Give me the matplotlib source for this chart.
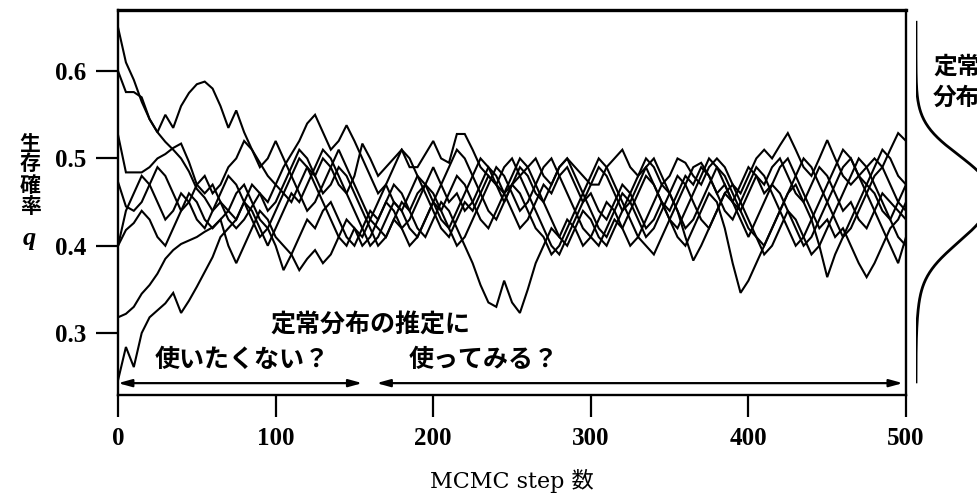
import matplotlib
matplotlib.use("Agg")
import matplotlib.pyplot as plt
import numpy as np

plt.rcParams["font.family"] = ["Liberation Serif", "Noto Sans CJK JP"]

# MCMC step axis (one value every 5 steps)
steps = np.arange(0, 501, 5)

# survival probability q, 8 chains
chain_a = [0.650, 0.610, 0.590, 0.565, 0.545, 0.530, 0.519, 0.510, 0.500, 0.485, 0.465,
           0.455, 0.440, 0.450, 0.430, 0.420, 0.430, 0.445, 0.460, 0.450, 0.470,
           0.490, 0.505, 0.520, 0.540, 0.550, 0.530, 0.510, 0.520, 0.538, 0.520,
           0.500, 0.480, 0.460, 0.470, 0.450, 0.440, 0.460, 0.480, 0.470, 0.490,
           0.470, 0.450, 0.460, 0.440, 0.450, 0.470, 0.490, 0.480, 0.460, 0.440,
           0.420, 0.430, 0.450, 0.470, 0.460, 0.480, 0.490, 0.470, 0.450, 0.460,
           0.440, 0.430, 0.450, 0.470, 0.460, 0.440, 0.420, 0.430, 0.450, 0.440,
           0.460, 0.480, 0.470, 0.490, 0.480, 0.460, 0.470, 0.450, 0.440, 0.460,
           0.480, 0.470, 0.490, 0.500, 0.480, 0.460, 0.450, 0.470, 0.490, 0.480,
           0.460, 0.440, 0.450, 0.430, 0.420, 0.440, 0.460, 0.450, 0.440, 0.430]
chain_b = [0.600, 0.576, 0.576, 0.570, 0.545, 0.530, 0.550, 0.535, 0.560, 0.575, 0.585,
           0.588, 0.580, 0.560, 0.535, 0.555, 0.530, 0.510, 0.495, 0.480, 0.470,
           0.460, 0.450, 0.470, 0.490, 0.480, 0.500, 0.490, 0.470, 0.460, 0.480,
           0.517, 0.500, 0.480, 0.490, 0.500, 0.510, 0.490, 0.490, 0.505, 0.520,
           0.500, 0.495, 0.528, 0.528, 0.510, 0.490, 0.480, 0.470, 0.460, 0.470,
           0.480, 0.490, 0.500, 0.480, 0.470, 0.490, 0.500, 0.490, 0.480, 0.470,
           0.470, 0.490, 0.500, 0.510, 0.490, 0.480, 0.500, 0.490, 0.470, 0.480,
           0.500, 0.495, 0.480, 0.470, 0.490, 0.500, 0.490, 0.470, 0.460, 0.480,
           0.500, 0.510, 0.500, 0.515, 0.529, 0.510, 0.490, 0.480, 0.500, 0.521,
           0.500, 0.480, 0.470, 0.480, 0.490, 0.500, 0.490, 0.510, 0.529, 0.520]
chain_c = [0.527, 0.484, 0.484, 0.484, 0.490, 0.500, 0.505, 0.512, 0.517, 0.496, 0.470,
           0.460, 0.470, 0.450, 0.440, 0.460, 0.470, 0.450, 0.430, 0.420, 0.400,
           0.372, 0.390, 0.410, 0.430, 0.420, 0.440, 0.450, 0.430, 0.410, 0.400,
           0.420, 0.440, 0.430, 0.450, 0.470, 0.460, 0.440, 0.420, 0.410, 0.430,
           0.450, 0.440, 0.420, 0.400, 0.380, 0.355, 0.335, 0.330, 0.360, 0.335,
           0.323, 0.350, 0.380, 0.400, 0.420, 0.410, 0.430, 0.420, 0.400, 0.410,
           0.430, 0.450, 0.440, 0.420, 0.400, 0.410, 0.430, 0.450, 0.470, 0.460,
           0.440, 0.410, 0.383, 0.400, 0.420, 0.440, 0.460, 0.450, 0.470, 0.490,
           0.480, 0.460, 0.470, 0.490, 0.500, 0.480, 0.460, 0.440, 0.420, 0.430,
           0.410, 0.420, 0.400, 0.380, 0.364, 0.380, 0.400, 0.420, 0.430, 0.450]
chain_d = [0.473, 0.445, 0.440, 0.450, 0.470, 0.490, 0.480, 0.460, 0.440, 0.450, 0.470,
           0.480, 0.460, 0.470, 0.490, 0.500, 0.520, 0.510, 0.490, 0.500, 0.520,
           0.500, 0.480, 0.460, 0.440, 0.450, 0.470, 0.490, 0.510, 0.490, 0.470,
           0.450, 0.430, 0.420, 0.410, 0.430, 0.450, 0.440, 0.460, 0.470, 0.450,
           0.430, 0.420, 0.440, 0.460, 0.480, 0.500, 0.490, 0.470, 0.450, 0.470,
           0.490, 0.480, 0.460, 0.450, 0.470, 0.490, 0.500, 0.480, 0.460, 0.440,
           0.420, 0.410, 0.430, 0.420, 0.440, 0.460, 0.480, 0.470, 0.450, 0.430,
           0.410, 0.400, 0.420, 0.440, 0.460, 0.450, 0.420, 0.380, 0.346, 0.360,
           0.380, 0.400, 0.420, 0.440, 0.460, 0.470, 0.450, 0.430, 0.400, 0.364,
           0.390, 0.410, 0.430, 0.450, 0.470, 0.460, 0.440, 0.430, 0.450, 0.470]
chain_e = [0.400, 0.440, 0.460, 0.480, 0.470, 0.450, 0.430, 0.440, 0.460, 0.450, 0.430,
           0.420, 0.440, 0.460, 0.480, 0.470, 0.450, 0.430, 0.410, 0.420, 0.440,
           0.460, 0.480, 0.500, 0.490, 0.470, 0.450, 0.430, 0.410, 0.400, 0.420,
           0.410, 0.430, 0.450, 0.470, 0.490, 0.510, 0.500, 0.480, 0.460, 0.440,
           0.420, 0.410, 0.430, 0.450, 0.440, 0.460, 0.480, 0.470, 0.490, 0.500,
           0.480, 0.460, 0.440, 0.420, 0.400, 0.390, 0.410, 0.430, 0.450, 0.470,
           0.490, 0.480, 0.460, 0.440, 0.450, 0.470, 0.490, 0.500, 0.480, 0.460,
           0.440, 0.420, 0.430, 0.450, 0.470, 0.490, 0.480, 0.460, 0.440, 0.420,
           0.410, 0.390, 0.400, 0.420, 0.440, 0.430, 0.410, 0.390, 0.400, 0.420,
           0.440, 0.460, 0.480, 0.500, 0.490, 0.470, 0.450, 0.430, 0.410, 0.400]
chain_f = [0.400, 0.418, 0.426, 0.440, 0.430, 0.410, 0.400, 0.420, 0.440, 0.460, 0.450,
           0.430, 0.420, 0.430, 0.400, 0.380, 0.400, 0.420, 0.440, 0.430, 0.410,
           0.400, 0.390, 0.372, 0.385, 0.395, 0.380, 0.390, 0.410, 0.430, 0.420,
           0.400, 0.410, 0.430, 0.450, 0.440, 0.420, 0.430, 0.450, 0.470, 0.460,
           0.440, 0.460, 0.480, 0.470, 0.450, 0.430, 0.420, 0.440, 0.460, 0.480,
           0.500, 0.490, 0.470, 0.450, 0.430, 0.410, 0.400, 0.420, 0.440, 0.430,
           0.410, 0.400, 0.420, 0.440, 0.460, 0.480, 0.490, 0.470, 0.450, 0.430,
           0.420, 0.440, 0.460, 0.480, 0.500, 0.490, 0.470, 0.450, 0.430, 0.410,
           0.430, 0.450, 0.470, 0.460, 0.440, 0.420, 0.400, 0.410, 0.430, 0.450,
           0.470, 0.490, 0.500, 0.480, 0.460, 0.440, 0.420, 0.400, 0.380, 0.410]
chain_g = [0.318, 0.322, 0.330, 0.345, 0.355, 0.368, 0.385, 0.395, 0.402, 0.406, 0.410,
           0.416, 0.421, 0.430, 0.440, 0.430, 0.450, 0.470, 0.460, 0.440, 0.450,
           0.470, 0.490, 0.510, 0.500, 0.480, 0.460, 0.470, 0.490, 0.480, 0.460,
           0.440, 0.420, 0.400, 0.410, 0.430, 0.420, 0.400, 0.410, 0.430, 0.450,
           0.470, 0.490, 0.510, 0.500, 0.480, 0.460, 0.440, 0.430, 0.450, 0.470,
           0.460, 0.440, 0.420, 0.410, 0.390, 0.400, 0.420, 0.440, 0.460, 0.480,
           0.500, 0.490, 0.470, 0.450, 0.430, 0.410, 0.400, 0.390, 0.410, 0.430,
           0.450, 0.470, 0.490, 0.495, 0.480, 0.460, 0.440, 0.430, 0.450, 0.470,
           0.490, 0.480, 0.460, 0.440, 0.420, 0.400, 0.410, 0.430, 0.450, 0.470,
           0.490, 0.510, 0.500, 0.480, 0.470, 0.490, 0.510, 0.500, 0.480, 0.470]
chain_h = [0.246, 0.284, 0.261, 0.300, 0.318, 0.326, 0.334, 0.346, 0.323, 0.337, 0.353,
           0.370, 0.387, 0.410, 0.420, 0.430, 0.450, 0.440, 0.420, 0.400, 0.420,
           0.440, 0.460, 0.450, 0.470, 0.490, 0.510, 0.500, 0.480, 0.460, 0.440,
           0.420, 0.400, 0.410, 0.430, 0.450, 0.440, 0.420, 0.410, 0.430, 0.450,
           0.440, 0.420, 0.400, 0.410, 0.430, 0.450, 0.470, 0.490, 0.480, 0.460,
           0.440, 0.450, 0.470, 0.490, 0.500, 0.480, 0.460, 0.440, 0.420, 0.410,
           0.400, 0.420, 0.440, 0.460, 0.450, 0.430, 0.410, 0.420, 0.440, 0.460,
           0.480, 0.470, 0.450, 0.430, 0.420, 0.440, 0.460, 0.470, 0.450, 0.430,
           0.410, 0.400, 0.420, 0.440, 0.460, 0.480, 0.500, 0.490, 0.470, 0.450,
           0.430, 0.410, 0.420, 0.440, 0.460, 0.480, 0.490, 0.470, 0.450, 0.440]
chains = [chain_a, chain_b, chain_c, chain_d, chain_e, chain_f, chain_g, chain_h]
for c in chains:
    assert len(c) == len(steps)

xticks = [0, 100, 200, 300, 400, 500]
yticks = [0.3, 0.4, 0.5, 0.6]
burn_in = 100  # samples after this step build the stationary distribution

fig = plt.figure(figsize=(9.78, 4.98), dpi=100)
ax = fig.add_axes([0.1207, 0.2068, 0.8057, 0.7731])

for c in chains:
    ax.plot(steps, c, color="black", lw=1.5, solid_joinstyle="miter")

ax.set_xlim(0, 500)
ax.set_ylim(0.229, 0.670)
ax.set_xticks(xticks)
ax.set_yticks(yticks)
ax.set_xticklabels([str(t) for t in xticks], fontsize=18, fontweight="bold")
ax.set_yticklabels(["%.1f" % t for t in yticks], fontsize=18, fontweight="bold")
ax.tick_params(direction="out", length=16, width=1.6, pad=7)
for s in ax.spines.values():
    s.set_linewidth(1.7)
ax.spines["top"].set_linewidth(2.4)

ax.set_xlabel("MCMC step 数", family=["DejaVu Serif", "Noto Sans CJK JP"],
              fontsize=16, labelpad=14)

# vertical y label
for k, ch in enumerate("生存確率"):
    fig.text(0.031, 1 - (143 + 21 * k) / 498, ch, family="Noto Sans CJK JP",
             fontsize=15, fontweight="bold", ha="center", va="center")
fig.text(0.030, 1 - 239 / 498, "q", fontsize=19, fontstyle="italic",
         fontweight="bold", ha="center", va="center")

# annotations
jp = "Noto Sans CJK JP"
ax.text(160, 0.309, "定常分布の推定に", family=jp, fontsize=18, fontweight="bold",
        ha="center", va="center")
ax.text(79, 0.269, "使いたくない？", family=jp, fontsize=18, fontweight="bold",
        ha="center", va="center")
ax.text(232, 0.269, "使ってみる？", family=jp, fontsize=18, fontweight="bold",
        ha="center", va="center")
arw = dict(arrowstyle="<|-|>,head_length=0.8,head_width=0.22", color="black",
           lw=1.6, shrinkA=0, shrinkB=0)
ax.annotate("", xy=(155, 0.2426), xytext=(0, 0.2426), arrowprops=arw)
ax.annotate("", xy=(498, 0.2426), xytext=(164, 0.2426), arrowprops=arw)

# stationary distribution from the samples after burn-in
samples = np.concatenate([np.array(c)[steps > burn_in] for c in chains])
q_grid = np.linspace(0.244, 0.656, 300)
dens = np.exp(-0.5 * ((q_grid[:, None] - samples[None, :]) / 0.026) ** 2).sum(axis=1)
dens = dens / dens.max()

ax_d = fig.add_axes([916 / 978, 0.2068, 0.1, 0.7731])
ax_d.plot(dens, q_grid, color="black", lw=2.0)
ax_d.set_xlim(0, 1.3)
ax_d.set_ylim(0.229, 0.670)
ax_d.axis("off")

# cut off at the right edge, as in the reference
fig.text(933 / 978, 1 - 67 / 498, "定常", family=jp, fontsize=17, fontweight="bold",
         ha="left", va="center")
fig.text(933 / 978, 1 - 98 / 498, "分布", family=jp, fontsize=17, fontweight="bold",
         ha="left", va="center")

fig.savefig("out.png", dpi=100)
